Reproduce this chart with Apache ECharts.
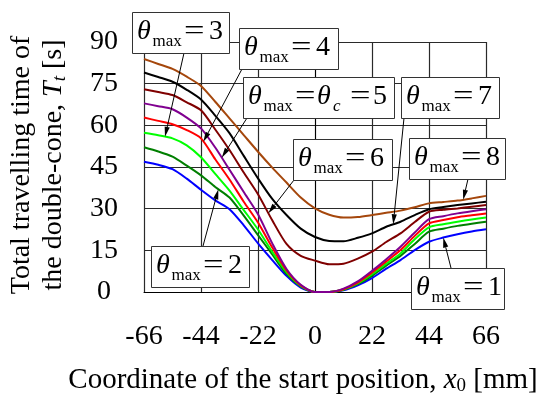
<!DOCTYPE html>
<html>
<head>
<meta charset="utf-8">
<script src="https://cdn.jsdelivr.net/npm/echarts@6/dist/echarts.min.js"></script>
<style>
  html, body { margin: 0; padding: 0; background: #fff; }
  #chart { width: 542px; height: 398px; }
</style>
</head>
<body>
<div id="chart"></div>
<script>
// Start position x0 [mm]
const startPos = [-66, -60.5, -55, -49.5, -44, -38.5, -33, -27.5, -22, -16.5, -11, -5.5, 0,
                  5.5, 11, 16.5, 22, 27.5, 33, 38.5, 44, 49.5, 55, 60.5, 66];

// Total travelling time Tt [s] for each theta_max
const tTheta1 = [46.9, 45.8, 44.2, 40.8, 36.8, 33.0, 29.8, 24.0, 17.5, 11.5, 5.8, 1.6, 0,
                 0, 0.6, 2.4, 5.0, 8.4, 11.5, 15.1, 18.1, 19.6, 20.8, 21.8, 22.6];
const tTheta2 = [52.1, 50.6, 48.7, 45.5, 42.0, 37.8, 34.0, 27.5, 20.5, 13.5, 6.5, 2.0, 0,
                 0, 0.8, 2.8, 5.8, 9.5, 13.0, 17.3, 21.7, 22.8, 23.8, 24.6, 25.3];
const tTheta3 = [57.3, 56.4, 55.3, 52.8, 48.5, 42.5, 36.5, 29.5, 22.5, 14.5, 7.2, 2.2, 0,
                 0, 0.9, 3.1, 6.4, 10.2, 13.9, 19.0, 23.3, 24.4, 25.3, 26.1, 26.8];
const tTheta4 = [62.8, 61.6, 60.4, 58.3, 55.3, 47.8, 40.5, 32.5, 25.0, 16.0, 7.8, 2.4, 0,
                 0, 1.0, 3.4, 7.0, 11.0, 15.1, 20.2, 24.7, 25.9, 26.9, 27.6, 28.3];
const tTheta5 = [67.9, 66.9, 65.8, 62.8, 58.9, 52.0, 44.0, 36.0, 28.0, 17.5, 8.3, 2.6, 0,
                 0, 1.2, 3.8, 7.6, 11.8, 16.3, 21.4, 26.2, 27.3, 28.3, 29.1, 29.8];
const tTheta6 = [73.0, 72.0, 70.9, 68.3, 65.4, 58.5, 51.1, 43.0, 35.2, 25.8, 17.3, 13.0, 11.3,
                 10.0, 10.2, 12.0, 14.5, 18.0, 21.1, 25.2, 28.9, 29.6, 30.1, 30.7, 31.3];
const tTheta7 = [79.0, 77.4, 75.7, 72.8, 69.3, 63.5, 57.2, 49.0, 40.9, 33.5, 27.7, 22.8, 19.8,
                 18.4, 18.3, 19.5, 21.1, 23.5, 25.3, 27.7, 29.8, 30.6, 31.3, 31.9, 32.5];
const tTheta8 = [83.9, 82.1, 80.3, 77.5, 74.2, 68.5, 62.5, 56.5, 50.5, 44.8, 39.4, 34.0, 30.1,
                 27.8, 26.8, 27.0, 27.7, 28.5, 29.3, 30.5, 31.9, 32.4, 32.9, 33.7, 34.6];

// Axis ticks
const xTicks = [-66, -44, -22, 0, 22, 44, 66];
const yTicks = [0, 15, 30, 45, 60, 75, 90];

const curves = [
  { name: '1', values: tTheta1, color: '#0000ff' },
  { name: '2', values: tTheta2, color: '#007f00' },
  { name: '3', values: tTheta3, color: '#00ff00' },
  { name: '4', values: tTheta4, color: '#ff0000' },
  { name: '5', values: tTheta5, color: '#800090' },
  { name: '6', values: tTheta6, color: '#7f0000' },
  { name: '7', values: tTheta7, color: '#000000' },
  { name: '8', values: tTheta8, color: '#a5470c' }
];

const FONT = "'Liberation Serif', 'Times New Roman', serif";
const chart = echarts.init(document.getElementById('chart'), null, { renderer: 'canvas' });

chart.setOption({
  animation: false,
  backgroundColor: '#fff',
  grid: { left: 144, right: 56, top: 42, bottom: 106 },
  xAxis: {
    type: 'value', min: xTicks[0], max: xTicks[xTicks.length - 1], interval: 22,
    axisLine: { show: true, lineStyle: { color: '#000', width: 1 } },
    axisTick: { show: false },
    splitLine: { show: true, lineStyle: { color: '#2a2a2a', width: 1.2 } },
    axisLabel: { color: '#000', fontFamily: FONT, fontSize: 28, margin: 31 }
  },
  yAxis: {
    type: 'value', min: yTicks[0], max: yTicks[yTicks.length - 1], interval: 15,
    axisLine: { show: true, lineStyle: { color: '#000', width: 1 } },
    axisTick: { show: false },
    splitLine: { show: true, lineStyle: { color: '#2a2a2a', width: 1.2 } },
    axisLabel: { color: '#000', fontFamily: FONT, fontSize: 28, margin: 40, align: 'center' }
  },
  series: curves.map(c => ({
    type: 'line',
    name: c.name,
    data: startPos.map((x, i) => [x, c.values[i]]),
    showSymbol: false,
    smooth: 0.25,
    lineStyle: { color: c.color, width: 2 },
    itemStyle: { color: c.color }
  }))
});

// ---- annotations: boxed labels with arrows ----
const measureCtx = document.createElement('canvas').getContext('2d');
function textWidth(t, size, italic) {
  measureCtx.font = (italic ? 'italic ' : '') + size + 'px ' + FONT;
  return measureCtx.measureText(t).width;
}
function textEl(t, x, y, size, italic, sx) {
  return {
    type: 'text', x: x, y: y, z: 20, silent: true, scaleX: sx || 1,
    style: {
      text: t, fill: '#000', fontFamily: FONT, fontSize: size,
      fontStyle: italic ? 'italic' : 'normal',
      align: 'left', verticalAlign: 'middle'
    }
  };
}
// A row of text runs laid out from left to right, centered on cx
function runRow(runs, cx, cy) {
  const total = runs.reduce((s, r) => s + textWidth(r.t, r.size, r.it), 0);
  let x = cx - total / 2;
  const out = [];
  runs.forEach(r => {
    out.push(textEl(r.t, x, cy + (r.dy || 0), r.size, r.it));
    x += textWidth(r.t, r.size, r.it);
  });
  return out;
}

function curveValue(values, x) {
  for (let i = 0; i < startPos.length - 1; i++) {
    if (x >= startPos[i] && x <= startPos[i + 1]) {
      const f = (x - startPos[i]) / (startPos[i + 1] - startPos[i]);
      return values[i] + f * (values[i + 1] - values[i]);
    }
  }
  return values[values.length - 1];
}

// box: [left, top, width, height]; tail: arrow start on box edge; tip on curve at x
const labels = [
  { val: '1', box: [411, 268, 93, 41], tailX: 451, tailY: 268, curve: 0, at: 49.5 },
  { val: '2', box: [151, 246, 98, 41], tailX: 203, tailY: 246, curve: 1, at: -37.3 },
  { val: '3', box: [132, 12, 97, 41], tailX: 184, tailY: 53, curve: 2, at: -57.9 },
  { val: '4', box: [239, 28, 99, 41], tailX: 242, tailY: 69, curve: 3, at: -43.1 },
  { val: '5', box: [243, 77, 151, 41], tailX: 247, tailY: 118, curve: 4, at: -36, critical: true },
  { val: '6', box: [293, 139, 99, 41], tailX: 294, tailY: 180, curve: 5, at: -18 },
  { val: '7', box: [401, 77, 98, 41], tailX: 404, tailY: 118, curve: 6, at: 30.2 },
  { val: '8', box: [409, 138, 96, 41], tailX: 468, tailY: 179, curve: 7, at: 57.2 }
];

const graphics = [];
labels.forEach(lb => {
  const [bx, by, bw, bh] = lb.box;
  const c = curves[lb.curve];
  const tip = chart.convertToPixel({ gridIndex: 0 }, [lb.at, curveValue(c.values, lb.at)]);
  const dx = tip[0] - lb.tailX, dy = tip[1] - lb.tailY;
  const len = Math.sqrt(dx * dx + dy * dy);
  const ux = dx / len, uy = dy / len;
  const headLen = 10, headHalf = 2.6;
  const bxh = tip[0] - ux * headLen, byh = tip[1] - uy * headLen;
  graphics.push({
    type: 'line', z: 15, silent: true,
    shape: { x1: lb.tailX, y1: lb.tailY, x2: bxh, y2: byh },
    style: { stroke: '#000', lineWidth: 1 }
  });
  graphics.push({
    type: 'polygon', z: 15, silent: true,
    shape: { points: [[tip[0], tip[1]],
      [bxh - uy * headHalf, byh + ux * headHalf],
      [bxh + uy * headHalf, byh - ux * headHalf]] },
    style: { fill: '#000' }
  });
  graphics.push({
    type: 'rect', z: 18, silent: true,
    shape: { x: bx + 0.5, y: by + 0.5, width: bw, height: bh },
    style: { fill: '#fff', stroke: '#333', lineWidth: 1 }
  });
  const mainY = by + 19.5, subY = by + 29.5;
  graphics.push(textEl('θ', bx + 5, mainY, 28, true));
  graphics.push(textEl('max', bx + 20.5, subY, 17, false));
  graphics.push(textEl('=', bx + 52, mainY, 28, false, 1.3));
  if (lb.critical) {
    graphics.push(textEl('θ', bx + 74, mainY, 28, true));
    graphics.push(textEl('c', bx + 90, subY, 17, true));
    graphics.push(textEl('=', bx + 107, mainY, 28, false, 1.3));
    graphics.push(textEl(lb.val, bx + 130, mainY, 28, false));
  } else {
    graphics.push(textEl(lb.val, bx + 77, mainY, 28, false));
  }
});

// x-axis title
graphics.push(...runRow([
  { t: 'Coordinate of the start position, ', size: 29 },
  { t: 'x', size: 29, it: true },
  { t: '0', size: 19, dy: 6 },
  { t: ' [mm]', size: 29 }
], 303, 380));

// y-axis title (two lines, rotated)
const yTitle = { type: 'group', x: 38, y: 165, rotation: Math.PI / 2, children: [] };
yTitle.children.push(...runRow([{ t: 'Total travelling time of', size: 28 }], 0, -16));
yTitle.children.push(...runRow([
  { t: 'the double-cone, ', size: 28 },
  { t: 'T', size: 28, it: true },
  { t: 't', size: 19, it: true, dy: 6 },
  { t: ' [s]', size: 28 }
], 0, 16));
graphics.push(yTitle);

chart.setOption({ graphic: { elements: graphics } });
</script>
</body>
</html>
